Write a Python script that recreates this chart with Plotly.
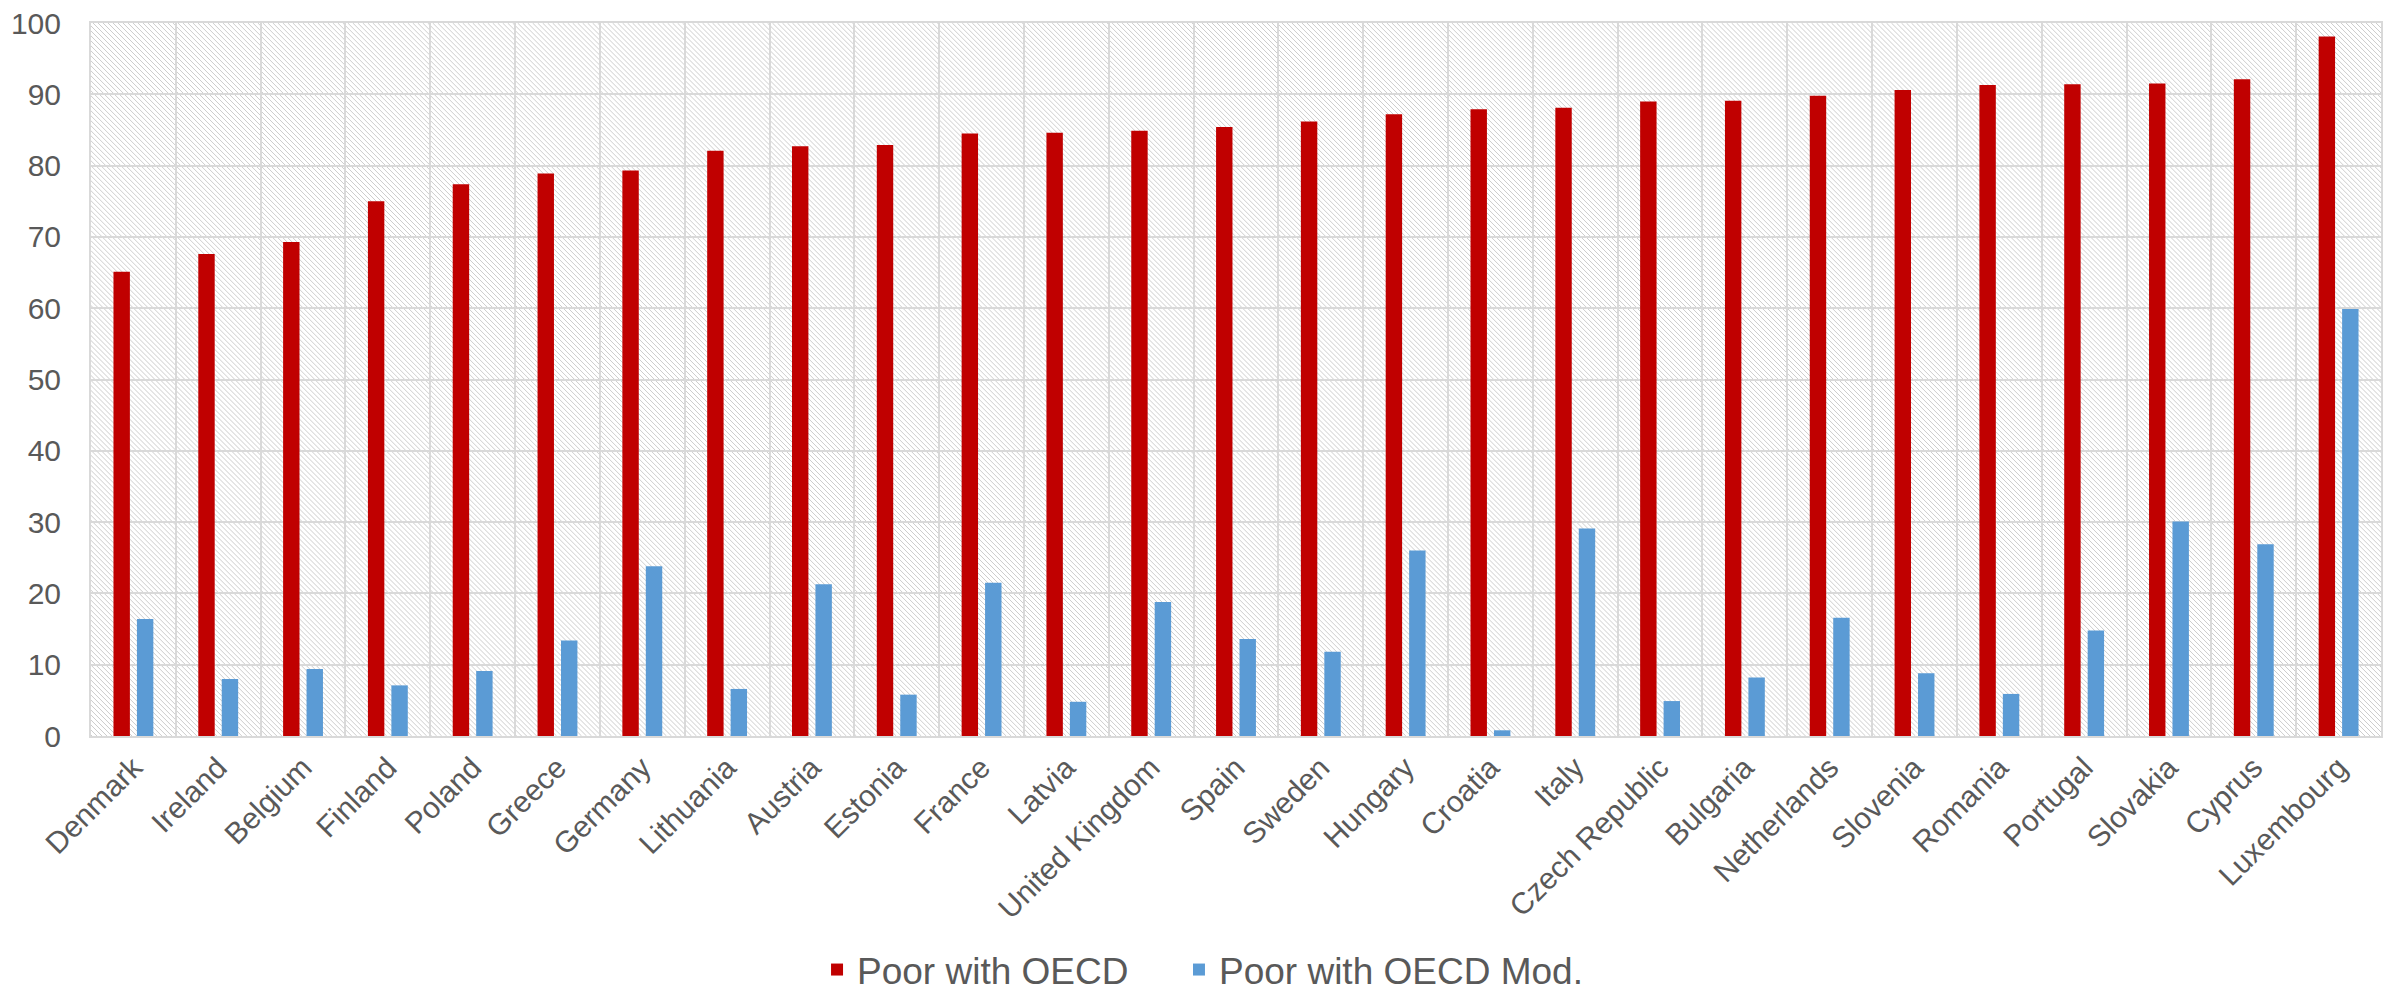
import plotly.graph_objects as go

countries = [
    "Denmark", "Ireland", "Belgium", "Finland", "Poland", "Greece", "Germany",
    "Lithuania", "Austria", "Estonia", "France", "Latvia", "United Kingdom",
    "Spain", "Sweden", "Hungary", "Croatia", "Italy", "Czech Republic",
    "Bulgaria", "Netherlands", "Slovenia", "Romania", "Portugal", "Slovakia",
    "Cyprus", "Luxembourg",
]
poor_oecd = [
    65.1, 67.6, 69.3, 75.0, 77.4, 78.9, 79.3,
    82.1, 82.7, 82.9, 84.5, 84.6, 84.9,
    85.4, 86.2, 87.2, 87.9, 88.1, 89.0,
    89.1, 89.8, 90.6, 91.3, 91.4, 91.5,
    92.1, 98.1,
]
poor_oecd_mod = [
    16.4, 8.0, 9.4, 7.1, 9.1, 13.4, 23.8,
    6.6, 21.3, 5.8, 21.5, 4.8, 18.8,
    13.6, 11.8, 26.0, 0.8, 29.1, 4.9,
    8.2, 16.6, 8.8, 5.9, 14.8, 30.1,
    26.9, 59.9,
]
y_ticks = list(range(0, 101, 10))

FONT = "Liberation Sans, Arial, sans-serif"
TEXT = "#595959"
GRID = "#D9D9D9"

W, H = 2389, 1003
M = dict(l=91, r=6, t=22, b=267)

fig = go.Figure()
fig.add_trace(go.Bar(x=countries, y=poor_oecd, name="Poor with OECD",
                     marker=dict(color="#C00000", line=dict(width=0)),
                     legend="legend"))
fig.add_trace(go.Bar(x=countries, y=poor_oecd_mod, name="Poor with OECD Mod.",
                     marker=dict(color="#5B9BD5", line=dict(width=0)),
                     legend="legend2"))

# diagonal hatching of the plot area, clipped to its rectangle
pw = W - M["l"] - M["r"]
ph = H - M["t"] - M["b"]
step = 5
segs = []
c = -pw
while c < ph:
    x0 = max(0, -c)
    x1 = min(pw, ph - c)
    if x1 > x0:
        y0, y1 = x0 + c, x1 + c
        segs.append(f"M{x0/pw:.5f},{1 - y0/ph:.5f}L{x1/pw:.5f},{1 - y1/ph:.5f}")
    c += step
fig.add_shape(type="path", path="".join(segs), xref="paper", yref="paper",
              line=dict(color="#CDCDCD", width=1), layer="below")

legend_style = dict(
    orientation="h",
    xref="container", xanchor="left",
    y=0.002, yref="container", yanchor="bottom",
    font=dict(size=37, color=TEXT, family=FONT),
    bgcolor="rgba(0,0,0,0)",
)

fig.update_layout(
    width=W, height=H,
    margin=M,
    paper_bgcolor="white",
    plot_bgcolor="white",
    barmode="group",
    bargap=0.447,
    bargroupgap=0.3,
    font=dict(family=FONT, color=TEXT, size=30),
    showlegend=True,
    legend=dict(x=0.342, **legend_style),
    legend2=dict(x=0.4935, **legend_style),
    xaxis=dict(
        type="category",
        tickangle=-45,
        tickson="boundaries",
        showgrid=True, gridcolor=GRID, gridwidth=2,
        showline=True, linecolor=GRID, linewidth=2, mirror=True,
        ticks="",
        tickfont=dict(size=30, color=TEXT, family=FONT),
    ),
    yaxis=dict(
        range=[0, 100],
        tickvals=y_ticks,
        showgrid=True, gridcolor=GRID, gridwidth=2,
        zeroline=False,
        showline=True, linecolor=GRID, linewidth=2, mirror=True,
        ticks="outside", ticklen=22, tickcolor="rgba(0,0,0,0)",
        tickfont=dict(size=30, color=TEXT, family=FONT),
    ),
)

fig.write_html("out.html")
